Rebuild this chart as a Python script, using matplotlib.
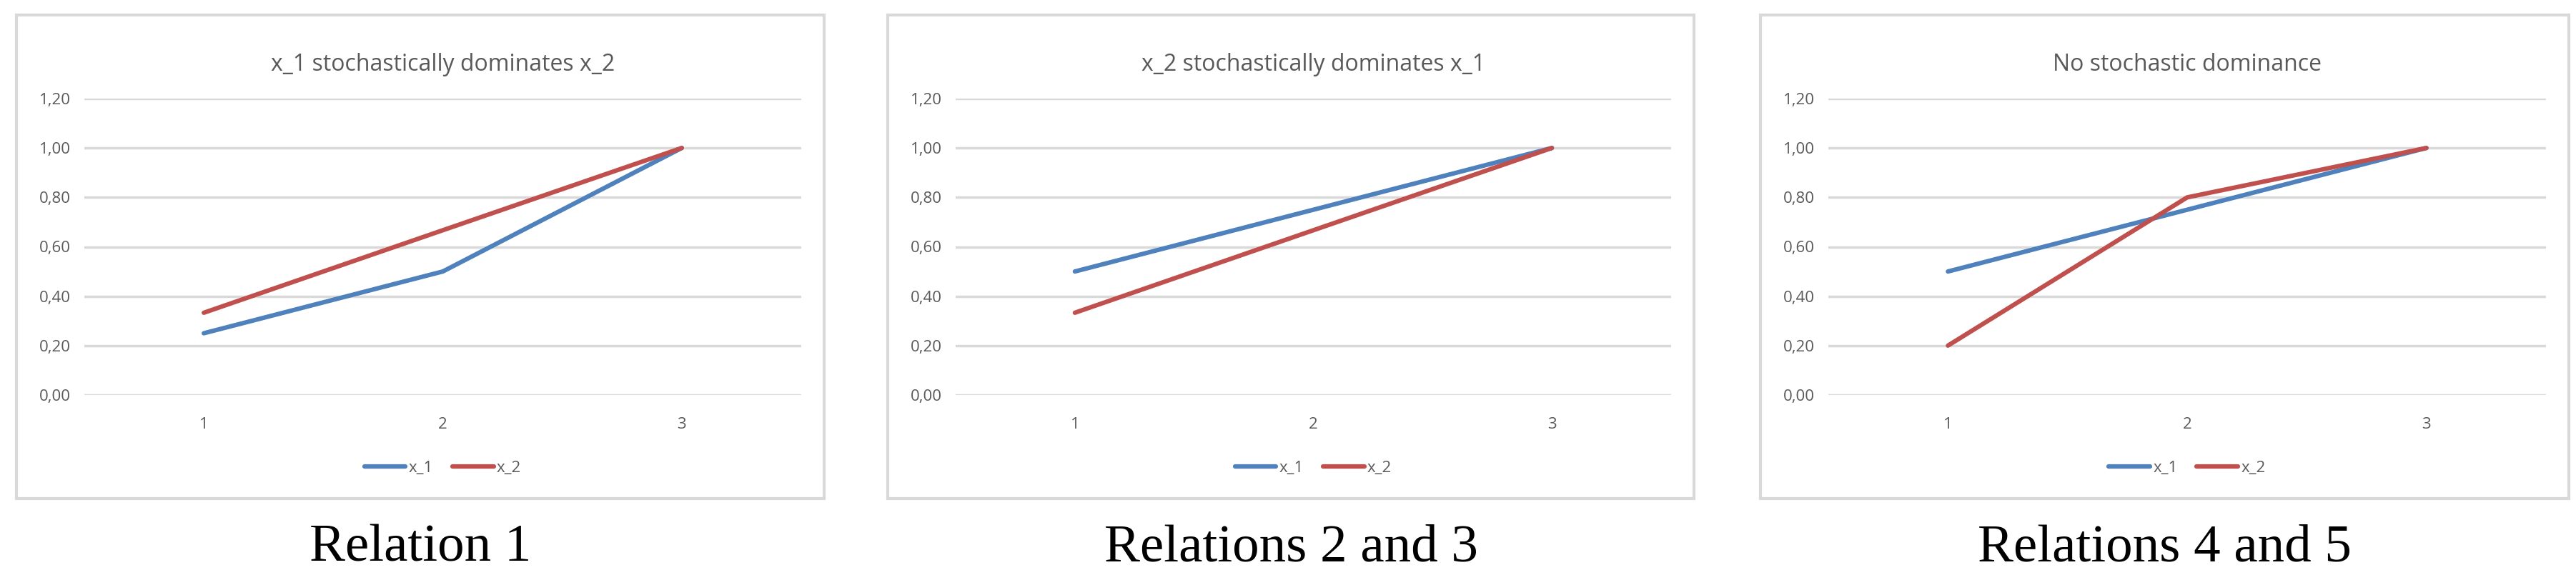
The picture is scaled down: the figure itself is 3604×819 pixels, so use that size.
import matplotlib
matplotlib.use("Agg")
import matplotlib.pyplot as plt
from matplotlib.patches import Rectangle

categories = [1, 2, 3]
titles = ["x_1 stochastically dominates x_2", "x_2 stochastically dominates x_1", "No stochastic dominance"]
captions = ["Relation 1", "Relations 2 and 3", "Relations 4 and 5"]
x1_values = [[0.25, 0.50, 1.00], [0.50, 0.75, 1.00], [0.50, 0.75, 1.00]]
x2_values = [[0.333, 0.667, 1.00], [0.333, 0.667, 1.00], [0.20, 0.80, 1.00]]
yticks = [0.0, 0.2, 0.4, 0.6, 0.8, 1.0, 1.2]
ytick_labels = ["0,00", "0,20", "0,40", "0,60", "0,80", "1,00", "1,20"]

W, H = 3605, 819
fig = plt.figure(figsize=(W/100, H/100), dpi=100)
frames = [(23, 1153), (1242, 2370), (2463, 3594)]
fy0, fy1 = 21, 698
blue, red, grey = "#4F81BD", "#C0504D", "#D9D9D9"
tf = "Open Sans"
for i, (fx0, fx1) in enumerate(frames):
    fig.add_artist(Rectangle((fx0/W, 1-fy1/H), (fx1-fx0)/W, (fy1-fy0)/H,
                             transform=fig.transFigure, fill=False, edgecolor=grey, lw=3))
    px0, px1 = fx0+95, fx1-32
    py0, py1 = 138, 553
    ax = fig.add_axes([px0/W, 1-py1/H, (px1-px0)/W, (py1-py0)/H])
    ax.plot(categories, x1_values[i], color=blue, lw=4.5, label="x_1", solid_capstyle="round")
    ax.plot(categories, x2_values[i], color=red, lw=4.5, label="x_2", solid_capstyle="round")
    ax.set_xlim(0.5, 3.5)
    ax.set_ylim(0, 1.2)
    ax.set_yticks(yticks)
    ax.set_yticklabels(ytick_labels, fontsize=16, color="#595959", family=tf)
    ax.set_xticks(categories)
    ax.set_xticklabels([str(c) for c in categories], fontsize=16, color="#595959", family=tf)
    ax.tick_params(length=0, pad=14)
    ax.tick_params(axis="x", pad=22)
    ax.grid(axis="y", color=grey, lw=2.5)
    ax.set_axisbelow(True)
    for s in ax.spines.values():
        s.set_visible(False)
    ax.set_title(titles[i], fontsize=23, color="#595959", family=tf, pad=28)
    ax.legend(loc="center", bbox_to_anchor=(0.5, -0.246), ncol=2, frameon=False,
              prop={"family": tf, "size": 16}, labelcolor="#595959",
              handlelength=2.6, handletextpad=0.2, columnspacing=1.2)
    fig.text((fx0+fx1)/2/W, 1-768/H, captions[i], ha="center", va="center",
             fontsize=54, family="Liberation Serif")
fig.savefig("out.png", dpi=100, facecolor="white")
